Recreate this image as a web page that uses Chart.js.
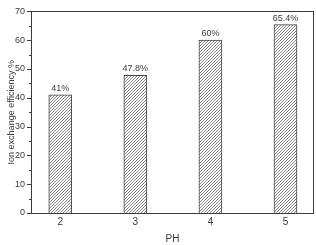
<!DOCTYPE html>
<html>
<head>
<meta charset="utf-8">
<script src="https://cdn.jsdelivr.net/npm/chart.js@4"></script>
<style>
  html, body { margin: 0; padding: 0; background: #fff; }
  #wrap { width: 316px; height: 245px; }
</style>
</head>
<body>
<div id="wrap"><canvas id="chart" width="316" height="245"></canvas></div>
<script>
const phValues = [2, 3, 4, 5];
const efficiency = [41, 47.8, 60, 65.4];
const valueLabels = ['41%', '47.8%', '60%', '65.4%'];
const yTicks = [0, 10, 20, 30, 40, 50, 60, 70];

const ink = '#3a3a3a';

// hatch pattern for the bars
function makeHatch() {
  const c = document.createElement('canvas');
  c.width = 3; c.height = 3;
  const g = c.getContext('2d');
  g.fillStyle = '#fff';
  g.fillRect(0, 0, 3, 3);
  g.strokeStyle = '#666';
  g.lineWidth = 0.8;
  g.beginPath();
  g.moveTo(0, 3); g.lineTo(3, 0);
  g.moveTo(-1, 1); g.lineTo(1, -1);
  g.moveTo(2, 4); g.lineTo(4, 2);
  g.stroke();
  return g.createPattern(c, 'repeat');
}

const extras = {
  id: 'extras',
  afterDatasetsDraw(chart) {
    const ctx = chart.ctx;
    const area = chart.chartArea;
    const y = chart.scales.y;
    ctx.save();
    // frame
    ctx.strokeStyle = ink;
    ctx.lineWidth = 1;
    ctx.strokeRect(Math.round(area.left) + 0.5, Math.round(area.top) + 0.5,
      Math.round(area.right - area.left) - 1, Math.round(area.bottom - area.top));
    // y ticks, major and minor
    for (let v = 0; v <= 70; v += 5) {
      const py = Math.round(y.getPixelForValue(v)) + 0.5;
      const len = v % 10 === 0 ? 4 : 2;
      ctx.beginPath();
      ctx.moveTo(area.left, py);
      ctx.lineTo(area.left - len, py);
      ctx.stroke();
    }
    // value labels
    ctx.fillStyle = ink;
    ctx.font = '9px "Liberation Sans", Arial, sans-serif';
    ctx.textAlign = 'center';
    ctx.textBaseline = 'bottom';
    chart.getDatasetMeta(0).data.forEach((bar, i) => {
      ctx.fillText(valueLabels[i], bar.x, bar.y - 2);
    });
    ctx.restore();
  }
};

new Chart(document.getElementById('chart'), {
  type: 'bar',
  data: {
    datasets: [{
      data: phValues.map((p, i) => ({ x: p, y: efficiency[i] })),
      backgroundColor: makeHatch(),
      borderColor: '#444',
      borderWidth: 1,
      barThickness: 23
    }]
  },
  options: {
    responsive: false,
    animation: false,
    layout: { padding: { top: 0, right: 2, left: 0, bottom: 0 } },
    plugins: { legend: { display: false }, tooltip: { enabled: false } },
    scales: {
      x: {
        type: 'linear',
        offset: false,
        bounds: 'data',
        min: 1.61,
        max: 5.38,
        afterBuildTicks: s => { s.ticks = phValues.map(v => ({ value: v })); },
        afterFit: s => { s.height = 32; },
        grid: { display: false, drawTicks: false },
        border: { display: false },
        ticks: { color: ink, font: { size: 10, family: '"Liberation Sans", Arial' }, padding: 3 },
        title: { display: true, text: 'PH', color: ink, font: { size: 10, family: '"Liberation Sans", Arial' }, padding: { top: 5, bottom: 0 } }
      },
      y: {
        min: 0,
        max: 70,
        afterBuildTicks: s => { s.ticks = yTicks.map(v => ({ value: v })); },
        afterFit: s => { s.width = 31; },
        grid: { display: false, drawTicks: false },
        border: { display: false },
        ticks: { color: ink, font: { size: 9, family: '"Liberation Sans", Arial' }, padding: 6 },
        title: { display: true, text: 'Ion exchange efficiency %', color: ink, font: { size: 9, family: '"Liberation Sans", Arial' }, padding: { top: 6, bottom: 0 } }
      }
    }
  },
  plugins: [extras]
});
</script>
</body>
</html>
